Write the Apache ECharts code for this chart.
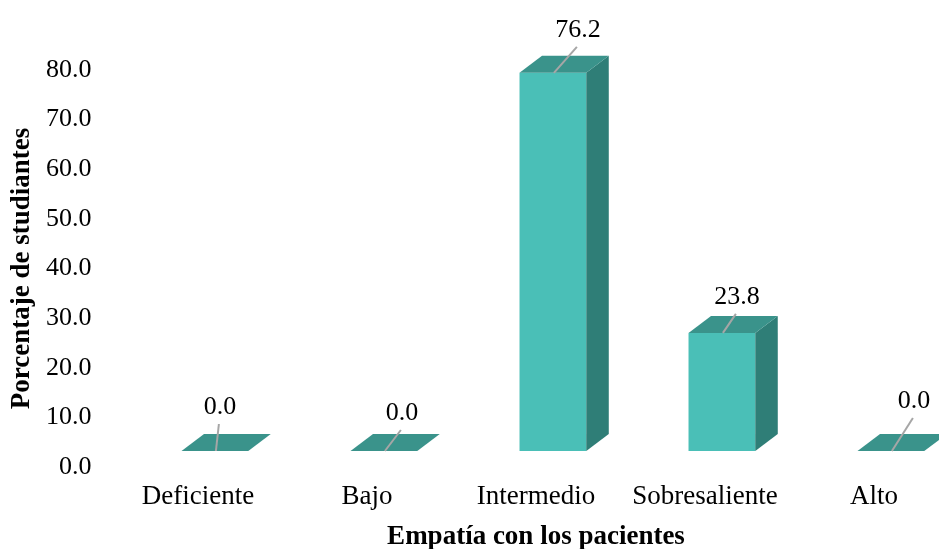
<!DOCTYPE html>
<html>
<head>
<meta charset="utf-8">
<script src="https://cdn.jsdelivr.net/npm/echarts@6/dist/echarts.min.js"></script>
<style>
  html, body { margin: 0; padding: 0; background: #ffffff; }
  #chart { width: 939px; height: 549px; }
</style>
</head>
<body>
<div id="chart"></div>
<script>
// Empatía con los pacientes: percentage of students per level
const categories = ['Deficiente', 'Bajo', 'Intermedio', 'Sobresaliente', 'Alto'];
const percentages = [0.0, 0.0, 76.2, 23.8, 0.0];
const yTicks = [0, 10, 20, 30, 40, 50, 60, 70, 80];

// Leader-line nudges (px) for each value label, relative to the bar's top front edge
const labelNudge = [[3, -27], [16, -21], [23, -26], [13, -19], [21, -33]];

const FONT = '"Liberation Serif", "Times New Roman", serif';
const FRONT = '#4ABFB7';
const TOP = '#3A938B';
const SIDE = '#2F7E77';
const DEPTH_X = 22.5;
const DEPTH_Y = 17;
const FLOOR_LIFT = 16; // front faces sit above the wall's zero line

const chart = echarts.init(document.getElementById('chart'));

function renderBox(params, api) {
  const i = params.dataIndex;
  const v = api.value(1);
  const band = api.size([1, 0])[0];
  const base = api.coord([i, 0]);
  const top = api.coord([i, v]);
  const w = band * 0.395;
  const cx = base[0] + band * 0.1;
  const x0 = cx - w / 2, x1 = cx + w / 2;
  const yb = base[1] - FLOOR_LIFT;
  const yt = top[1] - FLOOR_LIFT;
  const children = [];
  if (yb - yt > 0.5) {
    children.push({
      type: 'rect',
      shape: { x: x0, y: yt, width: w, height: yb - yt },
      style: { fill: FRONT }
    });
    children.push({
      type: 'polygon',
      shape: { points: [[x1, yt], [x1 + DEPTH_X, yt - DEPTH_Y], [x1 + DEPTH_X, yb - DEPTH_Y], [x1, yb]] },
      style: { fill: SIDE }
    });
  }
  children.push({
    type: 'polygon',
    shape: { points: [[x0, yt], [x1, yt], [x1 + DEPTH_X, yt - DEPTH_Y], [x0 + DEPTH_X, yt - DEPTH_Y]] },
    style: { fill: TOP }
  });
  const n = labelNudge[i];
  const sx = cx + 1, sy = yt;
  const ex = sx + n[0], ey = sy + n[1];
  children.push({
    type: 'line',
    shape: { x1: sx, y1: sy, x2: ex, y2: ey },
    style: { stroke: '#A6A6A6', lineWidth: 2 }
  });
  children.push({
    type: 'text',
    style: {
      text: v.toFixed(1),
      x: ex + 1, y: ey - 17,
      align: 'center', verticalAlign: 'middle',
      font: '26px ' + FONT,
      fill: '#000000'
    }
  });
  return { type: 'group', children: children };
}

chart.setOption({
  animation: false,
  backgroundColor: '#ffffff',
  grid: {
    left: 113.5, width: 845, top: 70, bottom: 82,
    containLabel: false, outerBoundsMode: 'none'
  },
  xAxis: {
    type: 'category',
    data: categories,
    boundaryGap: true,
    axisLine: { show: false },
    axisTick: { show: false },
    axisLabel: { interval: 0, margin: 16, color: '#000', fontFamily: FONT, fontSize: 27 },
    name: 'Empatía con los pacientes',
    nameLocation: 'middle',
    nameGap: 57,
    nameTextStyle: { color: '#000', fontFamily: FONT, fontSize: 27, fontWeight: 'bold' }
  },
  yAxis: {
    type: 'value',
    min: yTicks[0],
    max: yTicks[yTicks.length - 1],
    interval: yTicks[1] - yTicks[0],
    axisLine: { show: false },
    axisTick: { show: false },
    splitLine: { show: false },
    axisLabel: {
      margin: 22, color: '#000', fontFamily: FONT, fontSize: 26,
      formatter: (val) => val.toFixed(1)
    },
    name: 'Porcentaje de studiantes',
    nameLocation: 'middle',
    nameGap: 76,
    nameRotate: 90,
    nameTextStyle: { color: '#000', fontFamily: FONT, fontSize: 27, fontWeight: 'bold' }
  },
  series: [{
    type: 'custom',
    renderItem: renderBox,
    clip: false,
    data: categories.map((c, i) => [i, percentages[i]])
  }]
});
</script>
</body>
</html>
